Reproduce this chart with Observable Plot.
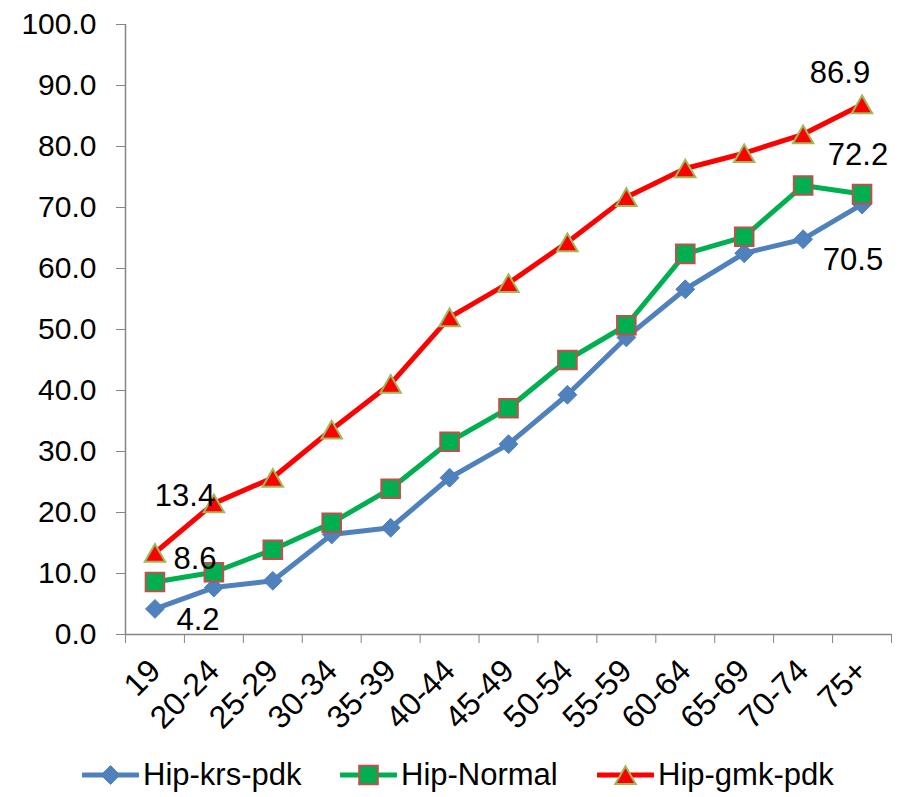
<!DOCTYPE html>
<html>
<head>
<meta charset="utf-8">
<script src="https://cdn.jsdelivr.net/npm/d3@7"></script>
<script src="https://cdn.jsdelivr.net/npm/@observablehq/plot@0.6"></script>
<style>
  html, body { margin: 0; padding: 0; background: #fff; }
  body { width: 902px; height: 797px; overflow: hidden; font-family: "Liberation Sans", Arial, sans-serif; }
  #legend { position: relative; width: 902px; height: 45px; }
  .item { position: absolute; top: 0; height: 45px; display: flex; align-items: center; font-size: 31px; color: #000; }
  .item svg { margin-right: 4px; }
</style>
</head>
<body>
<div id="chart"></div>
<div id="legend"></div>
<script>
// Age groups on the x axis
const ages = ["19", "20-24", "25-29", "30-34", "35-39", "40-44", "45-49", "50-54", "55-59", "60-64", "65-69", "70-74", "75+"];

// Series values (%)
const krsPdk = [4.2, 7.7, 8.8, 16.4, 17.5, 25.7, 31.2, 39.3, 48.7, 56.6, 62.5, 64.8, 70.5];
const normal = [8.6, 10.2, 13.9, 18.3, 23.9, 31.6, 37.1, 45.0, 50.7, 62.4, 65.2, 73.6, 72.2];
const gmkPdk = [13.4, 21.5, 25.7, 33.6, 41.1, 52.0, 57.6, 64.3, 71.7, 76.4, 78.9, 82.0, 86.9];

// Y axis ticks
const yTicks = [0, 10, 20, 30, 40, 50, 60, 70, 80, 90, 100];

const seriesDefs = [
  {name: "Hip-krs-pdk", values: krsPdk, line: "#4f81bd", symbol: "diamond2", r: 8.5, fill: "#4f81bd", stroke: "#4f81bd", sw: 1, dy: 0,
   labels: {0: [43, 11], 12: [-9, 56]}},
  {name: "Hip-Normal", values: normal, line: "#00b050", symbol: "square", r: 10.5, fill: "#00b050", stroke: "#c0504d", sw: 2, dy: 0,
   labels: {0: [40, -23], 12: [-4, -39]}},
  {name: "Hip-gmk-pdk", values: gmkPdk, line: "#ff0000", symbol: "triangle", r: 7.6, fill: "#ff0000", stroke: "#9bbb59", sw: 2, dy: 3,
   labels: {0: [30, -57], 12: [-22, -31]}}
];

const marks = [
  Plot.axisY({ticks: yTicks, tickFormat: d => d.toFixed(1), tickSize: 9, tickPadding: 20,
    fontSize: 30, stroke: "#868686", fill: "#000", label: null}),
  // band boundary ticks
  Plot.axisX(d3.range(-0.5, ages.length, 1), {tickSize: 9, tickFormat: () => "", stroke: "#868686", label: null}),
  // rotated category labels
  Plot.axisX(d3.range(ages.length), {tickSize: 0, tickPadding: 31, tickRotate: -45,
    tickFormat: i => ages[i], fontSize: 32, fill: "#000", label: null}),
  Plot.ruleX([-0.5], {y1: 0, y2: 100, stroke: "#868686", strokeWidth: 1.5}),
  Plot.ruleY([0], {stroke: "#868686", strokeWidth: 1.5})
];

for (const s of seriesDefs) {
  const rows = s.values.map((v, i) => ({i, v}));
  marks.push(Plot.line(rows, {x: "i", y: "v", stroke: s.line, strokeWidth: 5, strokeLinejoin: "round"}));
  marks.push(Plot.dot(rows, {x: "i", y: "v", symbol: () => s.symbol, r: s.r, fill: s.fill,
    stroke: s.stroke, strokeWidth: s.sw, dy: s.dy}));
}
for (const s of seriesDefs) {
  for (const [idx, [dx, dy]] of Object.entries(s.labels)) {
    const i = +idx;
    marks.push(Plot.text([{i, v: s.values[i]}], {x: "i", y: "v", text: d => d.v.toFixed(1),
      dx, dy, fontSize: 31, fill: "#000"}));
  }
}

const chart = Plot.plot({
  width: 902,
  height: 752,
  marginLeft: 125,
  marginRight: 11,
  marginTop: 24,
  marginBottom: 118,
  style: {fontFamily: "'Liberation Sans', Arial, sans-serif", background: "#fff", overflow: "visible"},
  x: {type: "linear", domain: [-0.5, ages.length - 0.5], axis: null},
  y: {domain: [0, 100], axis: null},
  symbol: {type: "identity"},
  marks
});
document.getElementById("chart").appendChild(chart);

// Legend: line + marker swatch for each series
const legend = d3.select("#legend");
const lefts = [82, 340, 597];
seriesDefs.forEach((s, k) => {
  const item = legend.append("div").attr("class", "item").style("left", lefts[k] + "px");
  const sv = item.append("svg").attr("width", 57).attr("height", 24);
  sv.append("line").attr("x1", 1).attr("x2", 56).attr("y1", 12).attr("y2", 12)
    .attr("stroke", s.line).attr("stroke-width", 5).attr("stroke-linecap", "round");
  const symType = {diamond2: d3.symbolDiamond2, square: d3.symbolSquare, triangle: d3.symbolTriangle}[s.symbol];
  sv.append("path").attr("transform", `translate(28.5,${12 + s.dy})`)
    .attr("d", d3.symbol(symType, Math.PI * s.r * s.r)())
    .attr("fill", s.fill).attr("stroke", s.stroke).attr("stroke-width", s.sw);
  item.append("span").text(s.name);
});
</script>
</body>
</html>
